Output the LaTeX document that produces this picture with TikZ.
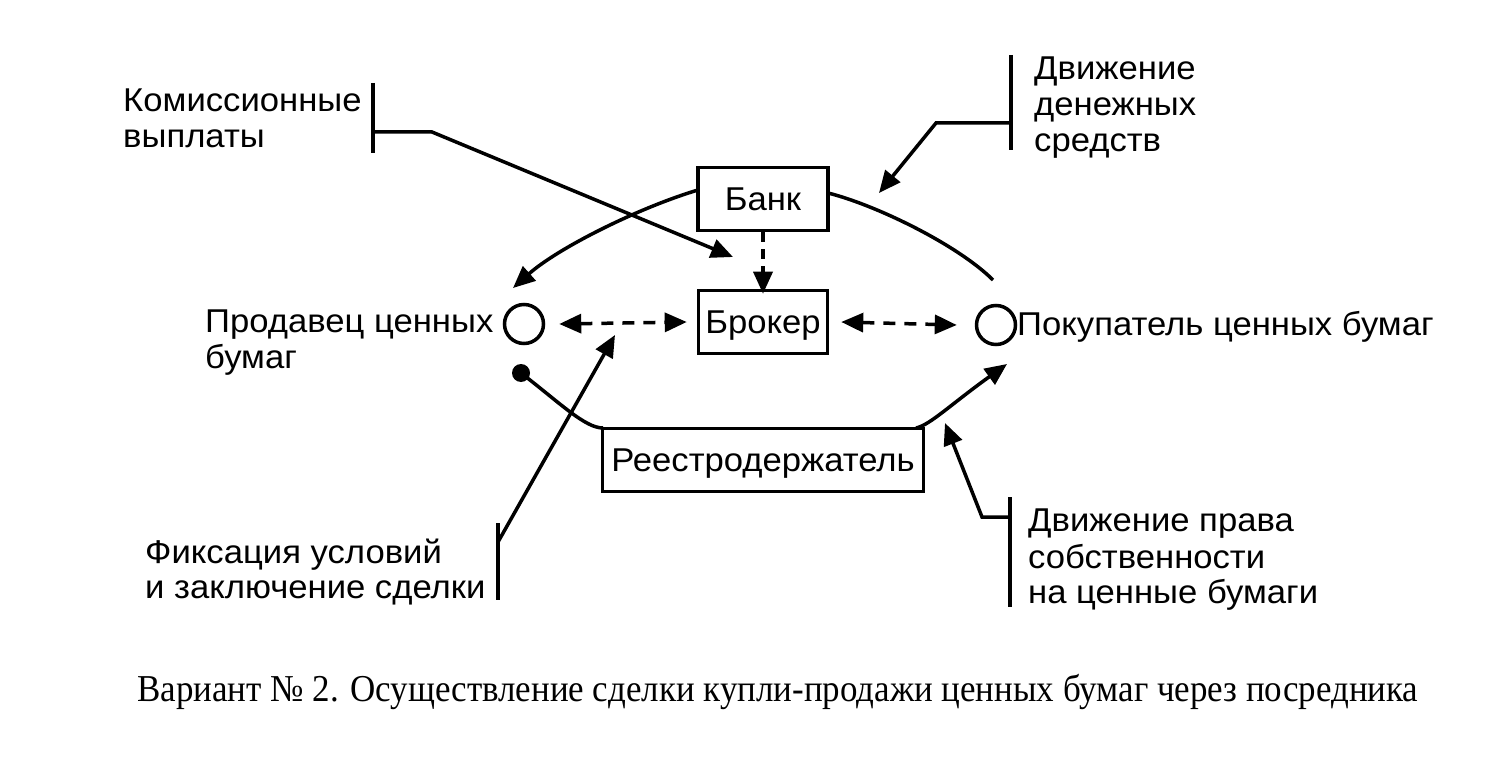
\documentclass[tikz,border=0pt]{standalone}
\usepackage{fontspec}
\setmainfont[FakeStretch=1.05]{Liberation Sans}
\newfontfamily\capfont[FakeStretch=0.92]{Liberation Serif}
\usetikzlibrary{arrows.meta}
\tikzset{
  lbl/.style={anchor=base west, inner sep=0pt, font=\fontsize{33}{38}\selectfont},
  boxnode/.style={draw, line width=3.5pt, inner sep=0pt, text height=23pt, text depth=0pt,
     font=\fontsize{33}{38}\selectfont},
  ln/.style={line width=3.5pt},
  arr/.style={line width=3.5pt, -{Triangle[length=22pt,width=19pt]}},
  darr/.style={line width=3.5pt, dash pattern=on 12pt off 9pt,
     {Triangle[length=22pt,width=19pt]}-{Triangle[length=22pt,width=19pt]}},
  dnarr/.style={line width=3.5pt, dash pattern=on 10pt off 7pt, -{Triangle[length=22pt,width=19pt]}},
  party/.style={circle, draw, line width=3.5pt, minimum size=39pt, inner sep=0pt},
}
\begin{document}
\begin{tikzpicture}[x=1pt,y=-1pt]
\useasboundingbox (0,0) rectangle (1489,762);
\fill[white] (0,0) rectangle (1489,762);

% boxes
\node[boxnode, minimum width=130pt, minimum height=63pt] (bank) at (763,199) {Банк};
\node[boxnode, minimum width=129pt, minimum height=63pt] (broker) at (763,322) {Брокер};
\node[boxnode, minimum width=321pt, minimum height=63pt] (reg) at (763,460) {Реестродержатель};

% parties
\node[party] (seller) at (524,324) {};
\node[party] (buyer) at (996,325) {};
\node[circle, fill=black, minimum size=18pt, inner sep=0pt] (dot) at (521,373) {};

% labels
\node[lbl] (selA) at (205,332) {Продавец ценных};
\node[lbl] (selB) at (205,368) {бумаг};
\node[lbl] (buyA) at (1017,335) {Покупатель ценных бумаг};
\node[lbl] (comA) at (123,112) {Комиссионные};
\node[lbl] (comB) at (123,148) {выплаты};
\node[lbl] (monA) at (1034,80) {Движение};
\node[lbl] (monB) at (1034,116) {денежных};
\node[lbl] (monC) at (1034,152) {средств};
\node[lbl] (fixA) at (145,563) {Фиксация условий};
\node[lbl] (fixB) at (145,598) {и заключение сделки};
\node[lbl] (ownA) at (1028,531) {Движение права};
\node[lbl] (ownB) at (1028,568) {собственности};
\node[lbl] (ownC) at (1028,603) {на ценные бумаги};
\node[anchor=base west, inner sep=0pt, font=\capfont\fontsize{38}{44}\selectfont] (cap) at (137,701)
  {Вариант № 2. Осуществление сделки купли-продажи ценных бумаг через посредника};

% coordinates
\coordinate (bankL) at (698,190);
\coordinate (bankR) at (828,193);
\coordinate (selTip) at (513,288);
\coordinate (buyTop) at (993,280);
\coordinate (regL) at (603,428);
\coordinate (regR) at (916,428);
\coordinate (buyTip) at (1007,364);

% bank -> seller
\draw[arr] (bankL) .. controls (638,208) and (558,248) .. (selTip);
% bank -- buyer
\draw[ln] (bankR) .. controls (876,205) and (958,245) .. (buyTop);
% bank -> broker
\draw[dnarr] (bank.south) -- ([yshift=-5pt]broker.north);
% seller <-> broker <-> buyer
\draw[darr] ([xshift=14pt]seller.east) -- ([xshift=-10pt]broker.west);
\draw[darr] ([xshift=12pt]broker.east) -- ([xshift=-18pt]buyer.west);
% registrar
\draw[ln] (dot.center) .. controls (560,403) and (585,428) .. (regL);
\draw[arr] (regR) .. controls (930,425) and (950,405) .. (buyTip);

% commission
\coordinate (c1t) at (373,83);
\coordinate (c1b) at (373,153);
\coordinate (c1m) at (373,132);
\coordinate (c1k) at (432,132);
\coordinate (c1tip) at (733,257);
\draw[ln] (c1t) -- (c1b);
\draw[arr] (c1m) -- (c1k) -- (c1tip);

% money
\coordinate (m1t) at (1011,55);
\coordinate (m1b) at (1011,150);
\coordinate (m1m) at (1011,123);
\coordinate (m1k) at (936,123);
\coordinate (m1tip) at (879,193);
\draw[ln] (m1t) -- (m1b);
\draw[arr] (m1m) -- (m1k) -- (m1tip);

% fixation
\coordinate (f1t) at (498,523);
\coordinate (f1b) at (498,600);
\coordinate (f1m) at (498,542);
\coordinate (f1tip) at (615,335);
\draw[ln] (f1t) -- (f1b);
\draw[arr] (f1m) -- (f1tip);

% ownership
\coordinate (o1t) at (1010,497);
\coordinate (o1b) at (1010,607);
\coordinate (o1m) at (1010,517);
\coordinate (o1k) at (982,517);
\coordinate (o1tip) at (945,423);
\draw[ln] (o1t) -- (o1b);
\draw[arr] (o1m) -- (o1k) -- (o1tip);
\end{tikzpicture}
\end{document}
